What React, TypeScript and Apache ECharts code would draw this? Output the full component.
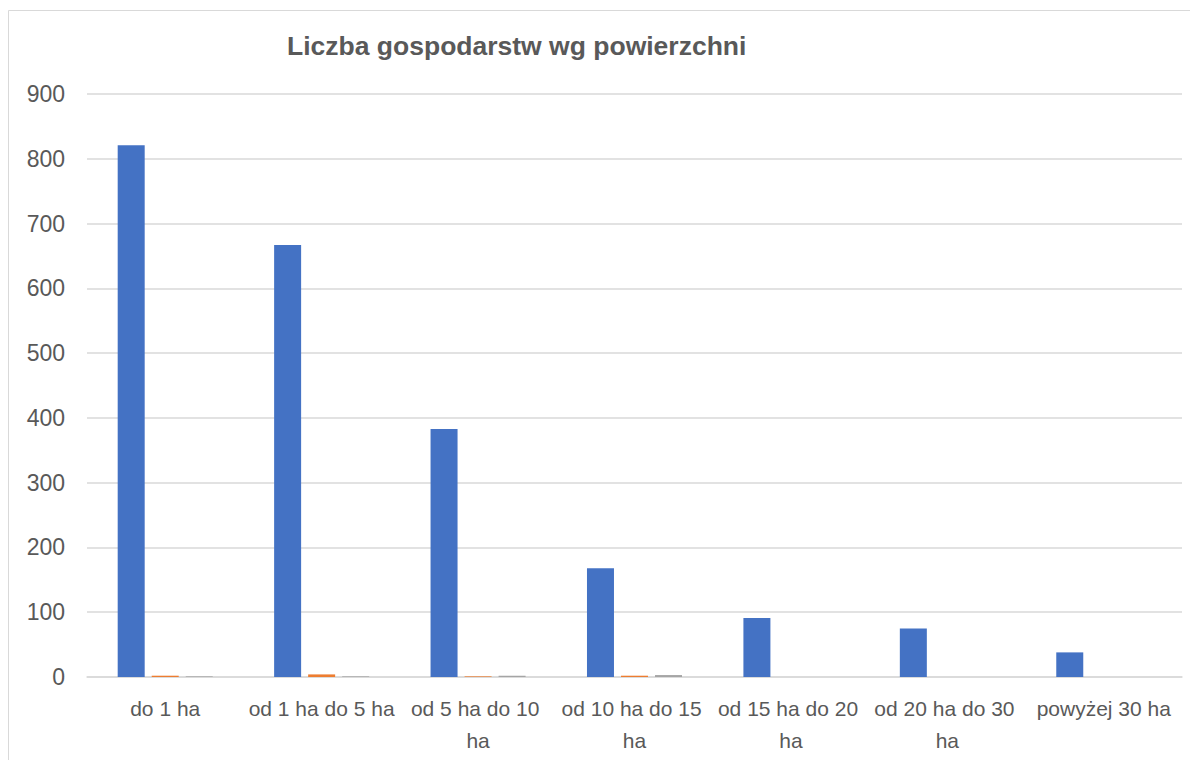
import React, { useEffect, useRef } from "react";
import * as echarts from "echarts";

const categories = [
  "do 1 ha",
  "od 1 ha do 5 ha",
  "od 5 ha do 10 ha",
  "od 10 ha do 15 ha",
  "od 15 ha do 20 ha",
  "od 20 ha do 30 ha",
  "powyżej 30 ha",
];
const series1 = [821, 667, 383, 168, 91, 75, 38];
const series2 = [2, 4, 1, 2, 0, 0, 0];
const series3 = [1, 1, 2, 3, 0, 0, 0];
const titleText = "Liczba gospodarstw wg powierzchni";

export default function App() {
  const ref = useRef<HTMLDivElement>(null);
  useEffect(() => {
    if (!ref.current) return;
    const chart = echarts.init(ref.current, null, { renderer: "svg" });
    const font = "'Liberation Sans', Arial, sans-serif";
    chart.setOption({
      animation: false,
      backgroundColor: "#ffffff",
      title: {
        text: titleText,
        left: 274,
        top: 19,
        textStyle: { fontFamily: font, fontSize: 26.5, fontWeight: "bold", color: "#595959" },
      },
      graphic: [
        {
          type: "rect",
          shape: { x: 0.5, y: 2.5, width: 1300, height: 900 },
          style: { fill: "none", stroke: "#d9d9d9", lineWidth: 1 },
          silent: true,
        },
      ],
      grid: { left: 79, right: 16, top: 86, bottom: 83, containLabel: false },
      xAxis: {
        type: "category",
        data: categories,
        axisLine: { show: true, lineStyle: { color: "#d9d9d9", width: 1.5 } },
        axisTick: { show: false },
        axisLabel: {
          interval: 0,
          fontFamily: font,
          fontSize: 21,
          color: "#595959",
          margin: 15,
          lineHeight: 32,
          width: 150,
          overflow: "break",
        },
      },
      yAxis: {
        type: "value",
        min: 0,
        max: 900,
        interval: 100,
        axisLine: { show: false },
        axisTick: { show: false },
        splitLine: { lineStyle: { color: "#d9d9d9", width: 1.5 } },
        axisLabel: { fontFamily: font, fontSize: 23, color: "#595959", margin: 22 },
      },
      series: [
        { name: "Seria 1", type: "bar", data: series1, barWidth: 27, barGap: "26%", itemStyle: { color: "#4472C4" } },
        { name: "Seria 2", type: "bar", data: series2, barWidth: 27, barGap: "26%", itemStyle: { color: "#ED7D31" } },
        { name: "Seria 3", type: "bar", data: series3, barWidth: 27, barGap: "26%", itemStyle: { color: "#A5A5A5" } },
      ],
    });
    return () => chart.dispose();
  }, []);
  return <div ref={ref} style={{ width: 1190, height: 752 }} />;
}
